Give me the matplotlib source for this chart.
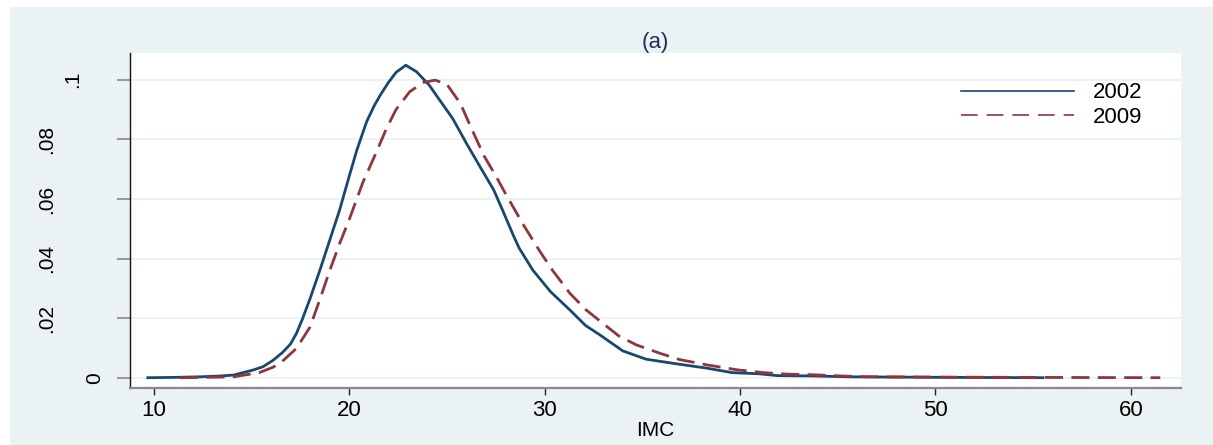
import matplotlib
matplotlib.use("Agg")
import matplotlib.pyplot as plt
from matplotlib.patches import Rectangle

# Densités estimées
imc_2002 = [9.7, 11.0, 12.4, 13.5, 14.1, 15.1, 15.6, 16.1, 16.6, 17.0, 17.3,
            17.6, 18.0, 18.5, 19.0, 19.5, 20.0, 20.4, 20.9, 21.3, 21.6, 22.0,
            22.4, 22.9, 23.45, 24.1, 24.6, 25.3, 26.0, 26.7, 27.4, 27.9, 28.4,
            28.7, 29.4, 30.3, 31.3, 32.1, 32.8, 34.0, 35.2, 36.6, 38.3, 39.6,
            41.0, 41.9, 43.6, 45.6, 48.0, 51.0, 55.5]
dens_2002 = [0.0, 0.0001, 0.0003, 0.0006, 0.0009, 0.0026, 0.0037, 0.0058,
             0.0085, 0.0113, 0.0148, 0.0195, 0.0265, 0.0360, 0.0460, 0.0560,
             0.0675, 0.0765, 0.0860, 0.0915, 0.0949, 0.0990, 0.1025, 0.1049,
             0.1027, 0.0982, 0.0935, 0.0870, 0.0787, 0.0708, 0.0630, 0.0555,
             0.0478, 0.0435, 0.0361, 0.0289, 0.0227, 0.0175, 0.0145, 0.0090,
             0.0062, 0.0048, 0.0032, 0.0017, 0.0013, 0.0007, 0.0006, 0.0003,
             0.0002, 0.0001, 0.0]

imc_2009 = [11.35, 12.5, 14.1, 15.4, 16.1, 16.5, 17.3, 18.0, 18.5, 19.0,
            19.5, 20.0, 20.7, 21.4, 21.9, 22.4, 23.1, 23.8, 24.4, 25.0, 25.7,
            26.2, 26.9, 27.5, 28.0, 28.9, 29.75, 30.4, 31.3, 32.1, 32.8, 33.8,
            34.7, 35.9, 36.9, 38.3, 39.9, 41.2, 42.4, 43.7, 45.1, 46.5, 50.0,
            55.0, 61.5]
dens_2009 = [0.0, 0.0001, 0.0003, 0.0017, 0.0035, 0.0050, 0.0098, 0.0170,
             0.0262, 0.0358, 0.0448, 0.0530, 0.0655, 0.0758, 0.0835, 0.0900,
             0.0960, 0.0991, 0.0999, 0.0985, 0.0920, 0.0845, 0.0745, 0.0678,
             0.0618, 0.0515, 0.0425, 0.0361, 0.0283, 0.0229, 0.0192, 0.0140,
             0.0110, 0.0082, 0.0061, 0.0043, 0.0026, 0.0017, 0.0012, 0.0010,
             0.0006, 0.0003, 0.0002, 0.0001, 0.0]

x_ticks = [10, 20, 30, 40, 50, 60]
y_ticks = [0, 0.02, 0.04, 0.06, 0.08, 0.1]
y_labels = ["0", ".02", ".04", ".06", ".08", ".1"]
y_pads = [9, 44, 44, 44, 44, 25]  # décalage des étiquettes verticales

plt.rcParams['font.family'] = ['Liberation Sans', 'DejaVu Sans']

fond = "#eaf2f3"
bleu = "#1a476f"
rouge = "#90353b"

fig = plt.figure(figsize=(12.13, 4.45), dpi=100, facecolor="white")
fig.patches.append(Rectangle((10 / 1213, 0), 1, 1 - 7 / 445,
                             transform=fig.transFigure, color=fond, zorder=-10))
ax = fig.add_axes([130 / 1213, 57 / 445, 1051 / 1213, 335 / 445])
ax.set_facecolor("white")

ax.plot(imc_2002, dens_2002, color=bleu, lw=2, label="2002", zorder=3)
ax.plot(imc_2009, dens_2009, color=rouge, lw=2, dashes=(6.5, 3),
        label="2009", zorder=3)

ax.set_xlim(8.79, 62.56)
ax.set_ylim(-0.00346, 0.109)
ax.set_xticks(x_ticks)
ax.set_yticks(y_ticks)
ax.set_yticklabels(y_labels, rotation=90, va="center", fontsize=15)
for tick, p in zip(ax.yaxis.get_major_ticks(), y_pads):
    tick.set_pad(p)
ax.tick_params(axis="x", length=5, width=1, color="#222222", labelsize=16, pad=4)
ax.tick_params(axis="y", length=9.4, width=1.2, color="#888888")
ax.grid(axis="y", color=fond, lw=1.5, zorder=1)
ax.set_axisbelow(True)

for s in ["top", "right"]:
    ax.spines[s].set_visible(False)
ax.spines["left"].set_color("#111111")
ax.spines["left"].set_linewidth(1)
ax.spines["bottom"].set_color("#8a8a8a")
ax.spines["bottom"].set_linewidth(1.6)

ax.set_xlabel("IMC", fontsize=15, labelpad=0)
ax.set_title("(a)", fontsize=16, color="#1e2f5e", pad=3)

leg = ax.legend(loc="upper left", bbox_to_anchor=(0.7907, 0.912), frameon=False,
                fontsize=16, handlelength=5.1, handletextpad=0.85,
                labelspacing=0.17, borderpad=0, borderaxespad=0)
for ln in leg.get_lines():
    ln.set_linewidth(1.2)
leg.get_lines()[1].set_dashes((10, 5.4))

fig.savefig("out.png", dpi=100, facecolor=fig.get_facecolor())
